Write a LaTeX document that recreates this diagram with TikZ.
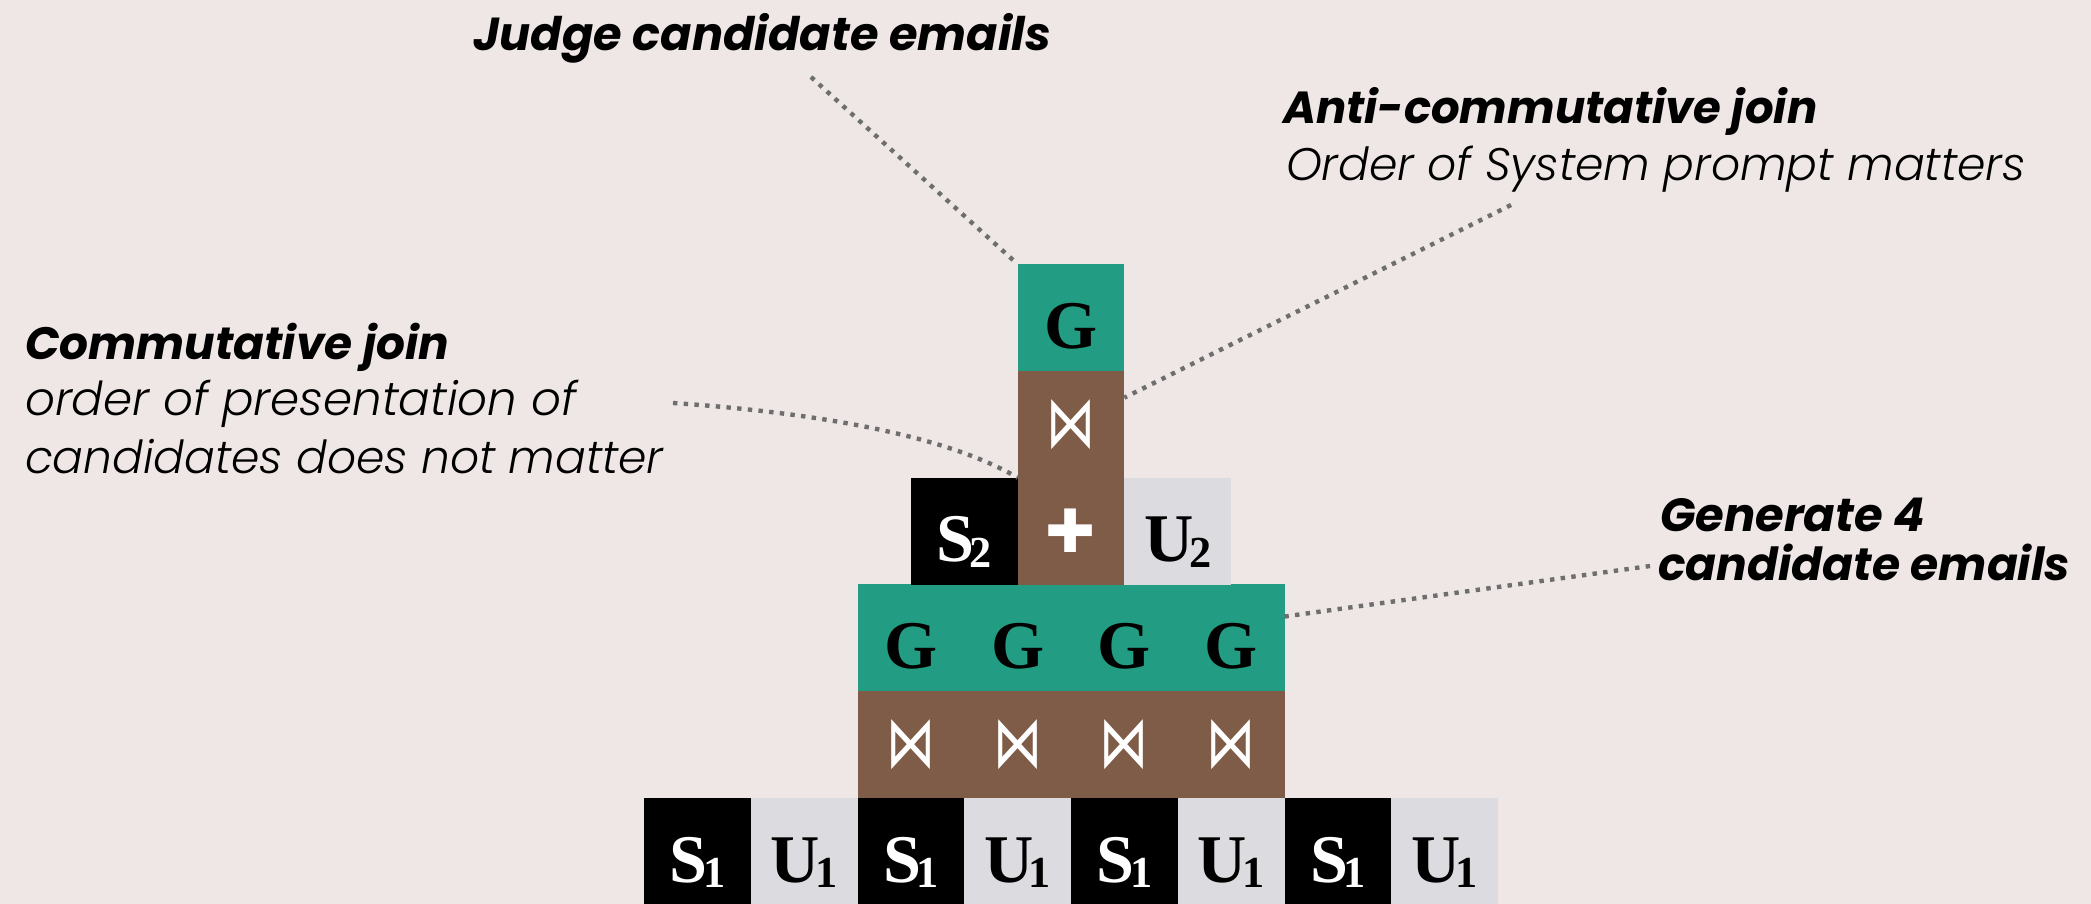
\documentclass[tikz,border=0pt]{standalone}
\usepackage{fontspec}
\usepackage{graphicx}
\usetikzlibrary{calc}
\newfontfamily\labbf{Poppins Bold Italic}
\newfontfamily\lablt{Poppins Light Italic}
\newfontfamily\cellrm{Liberation Serif}
\newfontfamily\symf{DejaVu Sans}
\definecolor{bgc}{HTML}{EEE7E5}
\definecolor{cteal}{HTML}{229C82}
\definecolor{cbrown}{HTML}{7F5C48}
\definecolor{cgray}{HTML}{DCDBE0}
\definecolor{cdot}{HTML}{6E6E6E}
\newcommand\cellsub[1]{\kern-1.3pt\raisebox{-1.6pt}{\fontsize{12.6pt}{13pt}\selectfont #1}}
\newcommand\joinsym{\scalebox{0.82}[1.22]{⋈}}
\tikzset{
  cell/.style={minimum width=1.0675cm, minimum height=1.0675cm, inner sep=0pt, outer sep=0pt,
    text height=0.84cm, text depth=0.2275cm, font=\cellrm\bfseries\fontsize{19.4pt}{20pt}\selectfont},
  sbox/.style={cell, fill=black, text=white},
  ubox/.style={cell, fill=cgray, text=black},
  gbox/.style={cell, fill=cteal, text=black},
  jbox/.style={minimum width=1.0675cm, minimum height=1.0675cm, inner sep=0pt, outer sep=0pt,
    fill=cbrown, text=white, font=\symf\fontsize{17pt}{18pt}\selectfont},
  pbox/.style={jbox, font=\symf\fontsize{17pt}{18pt}\selectfont},
  lab/.style={anchor=base west, inner sep=0pt, outer sep=0pt},
  dotline/.style={draw=cdot, line width=1.25pt, dash pattern=on 1.25pt off 1.8pt}
}
\begin{document}
\begin{tikzpicture}[x=0.01cm, y=-0.01cm]
\fill[bgc] (0,0) rectangle (2091,904);
\useasboundingbox (0,0) rectangle (2091,904);
% bottom row
\node[sbox] (b1) at (697.4,851.4) {S\cellsub{1}};
\node[ubox] (b2) at (804.1,851.4) {U\cellsub{1}};
\node[sbox] (b3) at (910.9,851.4) {S\cellsub{1}};
\node[ubox] (b4) at (1017.6,851.4) {U\cellsub{1}};
\node[sbox] (b5) at (1124.4,851.4) {S\cellsub{1}};
\node[ubox] (b6) at (1231.1,851.4) {U\cellsub{1}};
\node[sbox] (b7) at (1337.9,851.4) {S\cellsub{1}};
\node[ubox] (b8) at (1444.6,851.4) {U\cellsub{1}};
% join row
\node[jbox] (j1) at (910.9,744.6) {\joinsym};
\node[jbox] (j2) at (1017.6,744.6) {\joinsym};
\node[jbox] (j3) at (1124.4,744.6) {\joinsym};
\node[jbox] (j4) at (1231.1,744.6) {\joinsym};
% generate row
\node[gbox] (g1) at (910.9,637.9) {G};
\node[gbox] (g2) at (1017.6,637.9) {G};
\node[gbox] (g3) at (1124.4,637.9) {G};
\node[gbox] (g4) at (1231.1,637.9) {G};
% second level
\node[sbox] (s2) at (964.3,531.1) {S\cellsub{2}};
\node[pbox] (pl) at (1071,531.1) {✚};
\node[ubox] (u2) at (1177.8,531.1) {U\cellsub{2}};
\node[jbox] (jn) at (1071,424.4) {\joinsym};
\node[gbox] (gtop) at (1071,317.6) {G};
% labels
\node[lab] (judge) at (473,51) {\resizebox{5.78cm}{!}{\labbf Judge candidate emails}};
\node[lab] (anti) at (1283,124) {\resizebox{5.34cm}{!}{\labbf Anti-commutative join}};
\node[lab] (antid) at (1286,181) {\resizebox{7.39cm}{!}{\lablt Order of System prompt matters}};
\node[lab] (comm) at (25,360) {\resizebox{4.24cm}{!}{\labbf Commutative join}};
\node[lab] (commd1) at (25,416) {\resizebox{5.51cm}{!}{\lablt order of presentation of}};
\node[lab] (commd2) at (25,474) {\resizebox{6.38cm}{!}{\lablt candidates does not matter}};
\node[lab] (gen1) at (1660,532) {\resizebox{2.65cm}{!}{\labbf Generate 4}};
\node[lab] (gen2) at (1658,581) {\resizebox{4.12cm}{!}{\labbf candidate emails}};
% connectors
\coordinate (jl) at (811,77);
\draw[dotline] (jl) -- (gtop.north west);
\coordinate (al) at (1511,205);
\draw[dotline] (al) -- ($(jn.north east)!0.25!(jn.south east)$);
\coordinate (cl) at (673,403);
\draw[dotline] (cl) .. controls (834,414) and (952,439) .. (s2.north east);
\coordinate (gl) at (1650,566);
\draw[dotline] (gl) -- ($(g4.north east)!0.3!(g4.south east)$);
\end{tikzpicture}
\end{document}
